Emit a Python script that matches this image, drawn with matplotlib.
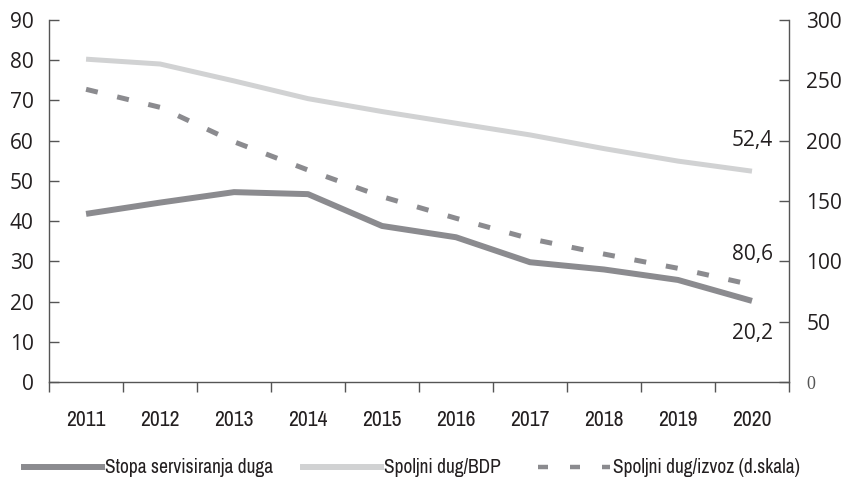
import matplotlib
matplotlib.use('Agg')
import matplotlib.pyplot as plt
from matplotlib.lines import Line2D
import numpy as np

# ── data
years = ['2011', '2012', '2013', '2014', '2015', '2016', '2017', '2018', '2019', '2020']
stopa_servisiranja = [41.8, 44.6, 47.2, 46.7, 38.8, 36.0, 29.8, 28.0, 25.4, 20.2]
dug_bdp = [80.2, 79.0, 74.8, 70.4, 67.2, 64.3, 61.4, 58.0, 54.9, 52.4]
dug_izvoz = [242.4, 227.5, 199.0, 175.6, 153.6, 135.7, 118.8, 106.1, 94.3, 80.6]

left_ticks = [0, 10, 20, 30, 40, 50, 60, 70, 80, 90]
right_ticks = [0, 50, 100, 150, 200, 250, 300]

C_DARK = '#8b8b8f'
C_LIGHT = '#d1d2d3'
C_TEXT = '#231f20'
C_AX = '#555555'

NUM_FONT = ['Open Sans', 'DejaVu Sans']
NARROW_FONT = ['Archivo Narrow', 'Asap Condensed', 'DejaVu Sans']

fig = plt.figure(figsize=(8.46, 4.79), dpi=100)
ax = fig.add_axes([0.058, 0.2019, 0.8746, 0.757])
ax2 = ax.twinx()

x = np.arange(len(years))

ax.plot(x, stopa_servisiranja, color=C_DARK, lw=4.3, solid_capstyle='butt', zorder=3)
ax.plot(x, dug_bdp, color=C_LIGHT, lw=3.6, solid_capstyle='butt', zorder=2)
ax2.plot(x, dug_izvoz, color=C_DARK, lw=3.6, dashes=(2.4, 4.0))

ax.set_xlim(-0.5, len(years) - 0.5)
ax.set_ylim(0, 90)
ax2.set_ylim(0, 300)

# x axis: category boundaries as ticks, labels centred
ax.set_xticks(np.arange(-0.5, len(years), 1.0))
ax.set_xticklabels([])
ax.set_xticks(x, minor=True)
ax.set_xticklabels(years, minor=True, family=NARROW_FONT, fontsize=15.5,
                   color=C_TEXT)
ax.tick_params(axis='x', which='major', direction='out', length=7,
               width=1, color=C_AX)
ax.tick_params(axis='x', which='minor', length=0, pad=20)

ax.set_yticks(left_ticks)
ax.set_yticklabels([str(v) for v in left_ticks], family=NUM_FONT,
                   fontsize=15, color=C_TEXT)
ax.tick_params(axis='y', direction='in', length=7, width=1, color=C_AX, pad=11)

ax2.set_yticks(right_ticks)
r_labels = ax2.set_yticklabels([str(v) for v in right_ticks], family=NUM_FONT,
                               fontsize=15, color=C_TEXT)
r_labels[0].set_family(['Liberation Serif', 'DejaVu Serif'])
r_labels[0].set_fontsize(13)
r_labels[0].set_color('#555555')
ax2.tick_params(axis='y', direction='in', length=7, width=1, color=C_AX, pad=12.5)

for a in (ax, ax2):
    a.spines['top'].set_visible(False)
    for s in ('left', 'right', 'bottom'):
        a.spines[s].set_color(C_AX)
        a.spines[s].set_linewidth(1)
ax.spines['right'].set_visible(False)
ax2.spines['left'].set_visible(False)
ax2.spines['bottom'].set_visible(False)

# value labels near the last point
last = len(years) - 1
for txt, yv in (('52,4', 60.1), ('80,6', 31.6), ('20,2', 12.2)):
    ax.text(last + 0.28, yv, txt, ha='right', va='center', fontsize=15,
            family=NUM_FONT, color=C_TEXT)

# legend: three single-entry legends placed along the bottom
entries = [
    (Line2D([], [], color=C_DARK, lw=4.3), 'Stopa servisiranja duga', 0.0284, 4.0),
    (Line2D([], [], color=C_LIGHT, lw=4.3), 'Spoljni dug/BDP', 0.358, 4.0),
    (Line2D([], [], color=C_DARK, lw=3.2, dashes=(2.25, 4.95)), 'Spoljni dug/izvoz (d.skala)', 0.636, 3.7),
]
for h, lab, x0, hl in entries:
    fig.legend([h], [lab], loc='center left', bbox_to_anchor=(x0, 0.023),
               frameon=False, borderpad=0, borderaxespad=0,
               handlelength=hl, handletextpad=0.15,
               prop={'family': NARROW_FONT, 'size': 14}, labelcolor=C_TEXT)

fig.savefig('out.png', dpi=100)
